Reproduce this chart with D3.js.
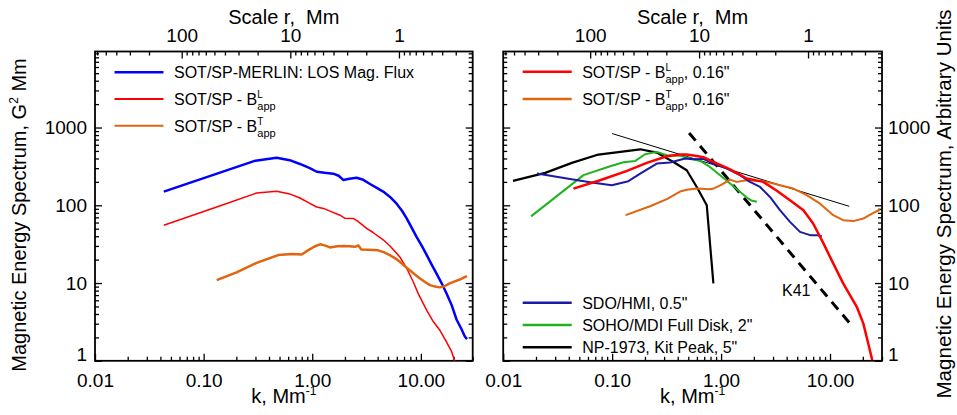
<!DOCTYPE html>
<html>
<head>
<meta charset="utf-8">
<script src="https://cdn.jsdelivr.net/npm/d3@7"></script>
<style>
  body { margin: 0; background: #fff; }
  svg { font-family: "Liberation Sans", Arial, Helvetica, sans-serif; }
  .axis line { stroke: #000; stroke-width: 1.3; }
  .axis text { font-size: 19px; fill: #000; font-family: "Liberation Sans", Arial, sans-serif; }
</style>
</head>
<body>
<div id="chart"></div>
<script>
// ---- data (k in Mm^-1, spectrum values) ----
// left panel
var merlinK = [0.043, 0.30, 0.47, 0.62, 0.77, 0.95, 1.1, 1.3, 1.56, 1.75, 1.93, 2.2, 2.56, 2.9, 3.4, 4.0, 4.5, 5.2, 5.98, 6.7, 7.4, 8.2, 9.1, 10.2, 11.3, 12.5, 13.9, 15.5, 17.2, 19.2, 21.3, 23.5, 25.4, 26.6];
var merlinE = [150, 375, 408, 380, 340, 300, 270, 262, 255, 240, 212, 220, 226, 215, 188, 165, 150, 128, 105, 85, 68, 52, 39.5, 30, 23, 17.5, 13.3, 10, 7.4, 5.2, 3.4, 2.6, 2.05, 1.9];
var spLK = [0.043, 0.132, 0.308, 0.47, 0.62, 0.77, 0.95, 1.1, 1.3, 1.455, 1.8, 2.0, 2.38, 2.6, 3.17, 3.6, 4.5, 5.2, 6.4, 7.4, 8.5, 9.5, 11.3, 13.0, 14.9, 17.0, 19.2, 20.7];
var spLE = [55.5, 95, 144, 152, 140, 124, 106, 95, 90, 84, 74.6, 68, 67.7, 63, 50.4, 45, 36, 30, 21.7, 15.5, 10.4, 7.2, 4.49, 3.2, 2.49, 1.8, 1.31, 0.95];
var spTK = [0.132, 0.201, 0.308, 0.486, 0.65, 0.8, 0.92, 1.05, 1.18, 1.3, 1.455, 1.7, 1.93, 2.2, 2.49, 2.65, 2.83, 3.3, 4.0, 4.6, 5.18, 5.8, 6.4, 7.1, 7.85, 8.8, 9.75, 10.9, 12.1, 13.5, 14.9, 16.5, 18.4, 20.5, 22.8, 25, 26.6];
var spTE = [10.9, 13.7, 18.2, 22.9, 23.6, 23.3, 26.5, 29.5, 31.5, 30.5, 28.7, 29.8, 29.9, 29.8, 29.2, 30.6, 27, 26.8, 26.5, 24.8, 22.9, 20.8, 18.8, 16.5, 14.7, 12.9, 11.5, 10.3, 9.4, 9.0, 8.8, 9.1, 9.9, 10.5, 11.1, 11.8, 12.3];
// right panel
var rSpLK = [0.0441, 0.0775, 0.137, 0.208, 0.318, 0.42, 0.484, 0.598, 0.688, 0.85, 1.21, 1.72, 2.44, 3.2, 4.29, 5.7, 7.0, 8.7, 10.7, 13.2, 17.6, 20.2, 22.4, 24.4];
var rSpLE = [164, 210, 277, 351, 427, 450, 450, 430, 415, 361, 289, 221, 200, 156, 116, 86.5, 58.3, 32.3, 17.9, 9.9, 4.95, 3.03, 1.68, 1.02];
var rSpTK = [0.133, 0.223, 0.318, 0.42, 0.484, 0.598, 0.79, 0.85, 0.98, 1.05, 1.21, 1.39, 1.72, 2.28, 2.62, 3.47, 4.6, 6.1, 8.1, 10.7, 13.2, 16.4, 20.2, 25.0, 28.9];
var rSpTE = [74.6, 97.3, 120, 150, 158, 164, 161, 164, 180, 190, 214, 200, 210, 206, 200, 181, 164, 135, 105, 74.6, 64.4, 62.6, 67.6, 79.9, 88.3];
var hmiK = [0.0204, 0.0385, 0.0627, 0.0993, 0.141, 0.181, 0.257, 0.34, 0.468, 0.55, 0.688, 0.85, 1.0, 1.13, 1.3, 1.49, 1.84, 2.28, 2.81, 3.47, 4.29, 5.3, 6.55, 7.55, 8.4];
var hmiE = [256, 221, 198, 181, 204, 256, 344, 355, 399, 390, 394, 340, 320, 297, 270, 244, 200, 172, 128, 86.5, 61.2, 45.5, 41.3, 41.3, 40];
var mdiK = [0.018, 0.0546, 0.096, 0.127, 0.163, 0.201, 0.257, 0.318, 0.42, 0.539, 0.642, 0.79, 0.98, 1.21, 1.49, 1.72, 1.9, 2.13];
var mdiE = [72, 244, 318, 358, 372, 453, 486, 440, 432, 394, 372, 311, 244, 190, 149, 126, 115, 111];
var npK = [0.0123, 0.0243, 0.0427, 0.0748, 0.181, 0.257, 0.365, 0.484, 0.598, 0.739, 0.85];
var npE = [206, 261, 351, 449, 525, 476, 360, 282, 172, 100, 9.9];
var fitK = [0.1, 15], fitE = [836, 97];
var k41K = [0.509, 15], k41E = [851, 3.1];

// ticks
var kTicks = [0.01, 0.1, 1, 10];
var kTickLabels = ["0.01", "0.10", "1.00", "10.00"];
var rTicks = [100, 10, 1];
var eTicks = [1, 10, 100, 1000];

// ---- layout ----
var width = 957, height = 415;
var yTop = 51.5, yBottom = 360.8;
var kDomain = [0.01, 30], eDomain = [1, 9500];

var svg = d3.select("#chart").append("svg")
  .attr("width", width)
  .attr("height", height);

var BLUE = "#0000ff", RED = "#ff0000", ORANGE = "#e0650e", NAVY = "#1a1aa6", GREEN = "#1fb41f", BLACK = "#000";

var panels = [
  {
    id: "left", x0: 95, x1: 472.7, labelSide: "left",
    yTitle: "Magnetic Energy Spectrum, G", yTitleSup: "2", yTitleEnd: " Mm", yTitleX: 25.5, yTitleY: 215, yTitleSize: 20,
    series: [
      {k: merlinK, e: merlinE, color: BLUE, w: 2.5},
      {k: spLK, e: spLE, color: RED, w: 1.5},
      {k: spTK, e: spTE, color: ORANGE, w: 2.5}
    ],
    legends: [
      {y: 72.3, color: BLUE, w: 2.5, parts: [{t: "SOT/SP-MERLIN: LOS Mag. Flux"}]},
      {y: 99, color: RED, w: 2, parts: [{t: "SOT/SP - B"}, {t: "L", sup: true}, {t: "app", sub: true}]},
      {y: 125.7, color: ORANGE, w: 2, parts: [{t: "SOT/SP - B"}, {t: "T", sup: true}, {t: "app", sub: true}]}
    ]
  },
  {
    id: "right", x0: 503.2, x1: 882, labelSide: "right",
    yTitle: "Magnetic Energy Spectrum, Arbitrary Units", yTitleX: 950.5, yTitleY: 204, yTitleSize: 20.6,
    series: [
      {k: fitK, e: fitE, color: BLACK, w: 1},
      {k: k41K, e: k41E, color: BLACK, w: 3, dash: "10,7"},
      {k: npK, e: npE, color: BLACK, w: 2.2},
      {k: mdiK, e: mdiE, color: GREEN, w: 2},
      {k: rSpTK, e: rSpTE, color: ORANGE, w: 2},
      {k: hmiK, e: hmiE, color: NAVY, w: 2},
      {k: rSpLK, e: rSpLE, color: RED, w: 2.5}
    ],
    legends: [
      {y: 71.7, color: RED, w: 2.5, parts: [{t: "SOT/SP - B"}, {t: "L", sup: true}, {t: "app", sub: true}, {t: ", 0.16\""}]},
      {y: 99, color: ORANGE, w: 2.5, parts: [{t: "SOT/SP - B"}, {t: "T", sup: true}, {t: "app", sub: true}, {t: ", 0.16\""}]},
      {y: 302.7, color: NAVY, w: 2.5, parts: [{t: "SDO/HMI, 0.5\""}]},
      {y: 325, color: GREEN, w: 2.5, parts: [{t: "SOHO/MDI Full Disk, 2\""}]},
      {y: 347.3, color: BLACK, w: 2.5, parts: [{t: "NP-1973, Kit Peak, 5\""}]}
    ],
    note: {text: "K41", k: 4.9, e: 6.8}
  }
];

panels.forEach(function(p) {
  var x = d3.scaleLog().domain(kDomain).range([p.x0, p.x1]);
  var r = d3.scaleLog().domain([2 * Math.PI / kDomain[0], 2 * Math.PI / kDomain[1]]).range([p.x0, p.x1]);
  var y = d3.scaleLog().domain(eDomain).range([yBottom, yTop]);

  var g = svg.append("g").attr("class", "panel-" + p.id);

  // clip
  g.append("clipPath").attr("id", "clip-" + p.id)
    .append("rect")
    .attr("x", p.x0).attr("y", yTop)
    .attr("width", p.x1 - p.x0).attr("height", yBottom - yTop);

  // axes: majors with labels, minors without
  var kMinor = x.ticks().filter(function(d) { return kTicks.indexOf(d) < 0; });
  var rMinor = r.ticks().filter(function(d) { return rTicks.indexOf(d) < 0; });
  var eMinor = y.ticks().filter(function(d) { return eTicks.indexOf(d) < 0 && d < eDomain[1]; });

  function addAxis(axis, tx, ty) {
    var a = g.append("g").attr("class", "axis")
      .attr("transform", "translate(" + tx + "," + ty + ")")
      .call(axis);
    a.select(".domain").remove();
    return a;
  }

  addAxis(d3.axisBottom(x).tickValues(kTicks).tickSize(-7).tickPadding(13)
    .tickFormat(function(d, i) { return kTickLabels[i]; }), 0, yBottom);
  addAxis(d3.axisBottom(x).tickValues(kMinor).tickSize(-4).tickFormat(""), 0, yBottom);

  addAxis(d3.axisTop(r).tickValues(rTicks).tickSize(-7).tickPadding(10)
    .tickFormat(d3.format("d")), 0, yTop);
  addAxis(d3.axisTop(r).tickValues(rMinor).tickSize(-4).tickFormat(""), 0, yTop);

  var leftMajor = d3.axisLeft(y).tickValues(eTicks).tickSize(-7).tickPadding(8).tickFormat(d3.format("d"));
  var rightMajor = d3.axisRight(y).tickValues(eTicks).tickSize(-7).tickPadding(6).tickFormat(d3.format("d"));
  if (p.labelSide === "left") rightMajor.tickFormat("");
  else leftMajor.tickFormat("");
  var la = addAxis(leftMajor, p.x0, 0);
  addAxis(d3.axisLeft(y).tickValues(eMinor).tickSize(-4).tickFormat(""), p.x0, 0);
  var ra = addAxis(rightMajor, p.x1, 0);
  addAxis(d3.axisRight(y).tickValues(eMinor).tickSize(-4).tickFormat(""), p.x1, 0);
  // lowest label sits just above the bottom edge
  [la, ra].forEach(function(a) {
    a.selectAll(".tick text").filter(function(d) { return d === 1; }).attr("dy", "-0.03em");
  });

  // frame
  g.append("rect")
    .attr("x", p.x0).attr("y", yTop)
    .attr("width", p.x1 - p.x0).attr("height", yBottom - yTop)
    .attr("fill", "none").attr("stroke", "#000").attr("stroke-width", 1.8);

  // curves
  var line = d3.line()
    .x(function(d) { return x(d[0]); })
    .y(function(d) { return y(d[1]); });
  var curves = g.append("g").attr("clip-path", "url(#clip-" + p.id + ")");
  p.series.forEach(function(s) {
    curves.append("path")
      .datum(d3.zip(s.k, s.e))
      .attr("d", line)
      .attr("fill", "none")
      .attr("stroke", s.color)
      .attr("stroke-width", s.w)
      .attr("stroke-linejoin", "round")
      .attr("stroke-dasharray", s.dash || null);
  });

  if (p.note) {
    g.append("text")
      .attr("x", x(p.note.k)).attr("y", y(p.note.e))
      .attr("text-anchor", "middle")
      .attr("font-size", 16)
      .text(p.note.text);
  }

  // legends
  p.legends.forEach(function(L) {
    g.append("line")
      .attr("x1", p.x0 + 19.5).attr("x2", p.x0 + 68.5)
      .attr("y1", L.y).attr("y2", L.y)
      .attr("stroke", L.color).attr("stroke-width", L.w);
    var t = g.append("text")
      .attr("x", p.x0 + 79).attr("y", L.y + 5.8)
      .attr("font-size", 16);
    var supW = 0, shift = 0;
    L.parts.forEach(function(part) {
      var ts = t.append("tspan").text(part.t);
      if (part.sup) {
        ts.attr("font-size", 10).attr("dy", -7);
        shift = -7;
        supW = ts.node().getComputedTextLength();
      } else if (part.sub) {
        ts.attr("font-size", 11).attr("dx", -supW).attr("dy", 12);
        shift = 5;
      } else if (shift !== 0) {
        ts.attr("dy", -shift);
        shift = 0;
      }
    });
  });

  // top title
  g.append("text")
    .attr("x", (p.x0 + p.x1) / 2).attr("y", 23.5)
    .attr("text-anchor", "middle")
    .attr("font-size", 20)
    .style("white-space", "pre")
    .text("Scale r,  Mm");

  // bottom title
  var bt = g.append("text")
    .attr("x", (p.x0 + p.x1) / 2).attr("y", 402.5)
    .attr("text-anchor", "middle")
    .attr("font-size", 20);
  bt.append("tspan").text("k, Mm");
  bt.append("tspan").attr("font-size", 12).attr("dy", -8).text("-1");

  // y title
  var yt = g.append("text")
    .attr("transform", "translate(" + p.yTitleX + "," + p.yTitleY + ") rotate(-90)")
    .attr("text-anchor", "middle")
    .attr("font-size", p.yTitleSize);
  yt.append("tspan").text(p.yTitle);
  if (p.yTitleSup) {
    yt.append("tspan").attr("font-size", 12).attr("dy", -8).text(p.yTitleSup);
    yt.append("tspan").attr("dy", 8).text(p.yTitleEnd);
  }
});
</script>
</body>
</html>
